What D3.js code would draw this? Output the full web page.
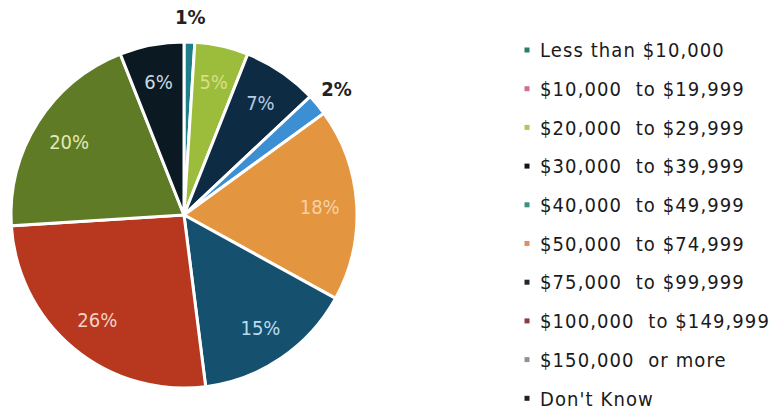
<!DOCTYPE html>
<html>
<head>
<meta charset="utf-8">
<script src="https://cdn.jsdelivr.net/npm/d3@7"></script>
<style>
  body { margin: 0; background: #fff; }
  svg { display: block; }
  text { font-family: "DejaVu Sans Condensed", "DejaVu Sans", sans-serif; }
</style>
</head>
<body>
<script>
const width = 769;
const height = 414;

// household income categories, share of respondents (%)
const categories = [
    'Less than $10,000',
    '$10,000  to $19,999',
    '$20,000  to $29,999',
    '$30,000  to $39,999',
    '$40,000  to $49,999',
    '$50,000  to $74,999',
    '$75,000  to $99,999',
    '$100,000  to $149,999',
    '$150,000  or more',
    "Don't Know"
];
const values = [1, 0, 5, 7, 2, 18, 15, 26, 20, 6];

const sliceColors = ['#1d7f8a', '#d47a98', '#9cbc3c', '#0d2b42', '#3b8fd2',
    '#e4953f', '#15506f', '#b7381f', '#5f7b26', '#0b1a22'];
const legendColors = ['#2a7d6c', '#d0708e', '#b4c45a', '#151515', '#3d9080',
    '#e09060', '#262626', '#8a3a44', '#929292', '#202020'];
const labelColors = ['#222', '#fff', '#d8df86', '#b2cde2', '#222',
    '#f6d1a4', '#b8dcec', '#f3d2c4', '#e2e9b4', '#c9d8e6'];

const data = categories.map((c, i) => ({ category: c, value: values[i] }));

let svg = d3.select('body')
    .append('svg')
    .attr('width', width)
    .attr('height', height);

let cx = 184, cy = 215, radius = 173;

let color = d3.scaleOrdinal()
    .domain(categories)
    .range(sliceColors);

let pie = d3.pie()
    .sort(null)
    .value(d => d.value);

let arc = d3.arc()
    .innerRadius(0)
    .outerRadius(radius);

let innerLabelArc = d3.arc()
    .innerRadius(136)
    .outerRadius(136);

let outerLabelArc = d3.arc()
    .innerRadius(198)
    .outerRadius(198);

let pieGroup = svg.append('g')
    .classed('pie', true)
    .attr('transform', `translate(${cx}, ${cy})`);

let arcs = pie(data).filter(d => d.data.value > 0);

pieGroup.selectAll('.slice')
    .data(arcs)
    .enter()
    .append('path')
    .classed('slice', true)
    .attr('d', arc)
    .attr('fill', d => color(d.data.category))
    .attr('stroke', '#fff')
    .attr('stroke-width', 3)
    .attr('stroke-linejoin', 'miter');

pieGroup.selectAll('.label')
    .data(arcs)
    .enter()
    .append('text')
    .classed('label', true)
    .attr('transform', d => {
        let p = d.data.value <= 2 ? outerLabelArc.centroid(d) : innerLabelArc.centroid(d);
        return `translate(${p[0]}, ${p[1]})`;
    })
    .attr('text-anchor', 'middle')
    .attr('dy', '0.36em')
    .attr('font-size', 20)
    .attr('font-weight', d => d.data.value <= 2 ? 'bold' : 'normal')
    .attr('fill', d => labelColors[categories.indexOf(d.data.category)])
    .text(d => d.data.value + '%');

// legend
let legendGroup = svg.append('g')
    .classed('legend', true)
    .attr('transform', 'translate(527, 50)');

let legendItems = legendGroup.selectAll('.item')
    .data(categories)
    .enter()
    .append('g')
    .classed('item', true)
    .attr('transform', (d, i) => `translate(0, ${i * 38.7})`);

legendItems.append('rect')
    .attr('x', -2.5)
    .attr('y', -2.5)
    .attr('width', 5)
    .attr('height', 5)
    .attr('fill', (d, i) => legendColors[i]);

legendItems.append('text')
    .attr('x', 13)
    .attr('dy', '0.36em')
    .attr('font-size', 20)
    .attr('font-family', '"DejaVu Sans", sans-serif')
    .attr('letter-spacing', 1.1)
    .attr('fill', '#1a1a1a')
    .style('white-space', 'pre')
    .text(d => d);
</script>
</body>
</html>
